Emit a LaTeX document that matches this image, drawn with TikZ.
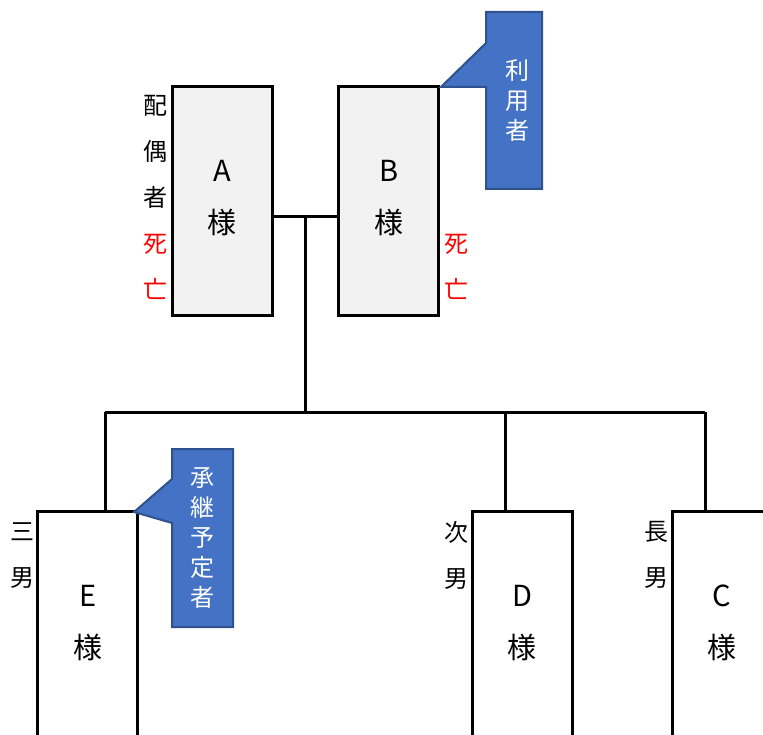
\documentclass[tikz,border=0pt]{standalone}
\usepackage{fontspec}
\setmainfont{Noto Sans CJK JP}
\definecolor{boxgray}{HTML}{F2F2F2}
\definecolor{callfill}{HTML}{4472C4}
\definecolor{calldraw}{HTML}{2F528F}
\definecolor{deadred}{HTML}{FF0000}
\tikzset{
  person/.style={draw=black, line width=3pt, minimum width=100pt, inner sep=0pt, anchor=north},
  parent/.style={person, fill=boxgray, minimum height=229pt},
  child/.style={person, fill=white, minimum height=260pt},
  link/.style={line width=3pt},
  callout/.style={fill=callfill, draw=calldraw, line width=2pt, line join=miter},
  boxtext/.style={inner sep=0pt, align=center, font=\fontsize{29}{52}\selectfont},
  sidetext/.style={inner sep=0pt, align=center, font=\fontsize{24}{46}\selectfont},
  calltext/.style={inner sep=0pt, align=center, text=white, font=\fontsize{24}{30}\selectfont}
}
\begin{document}
\begin{tikzpicture}[x=1pt,y=-1pt]
\useasboundingbox (0,0) rectangle (763,735);
\clip (0,0) rectangle (763,735);
% parents
\node[parent] (A) at (222,85) {};
\node[parent] (B) at (388.5,85) {};
% children
\node[child] (E) at (87.5,510) {};
\node[child] (D) at (522,510) {};
\node[child] (C) at (722,510) {};
% connectors
\coordinate (m) at (305,216.5);
\coordinate (barL) at (105,412);
\coordinate (barR) at (705,412);
\coordinate (barD) at (505,412);
\draw[link] (A.east |- m) -- (B.west |- m);
\draw[link] (m) -- (m |- barL);
\draw[link] (barL) -- (barR);
\draw[link] (barL) -- (barL |- E.north);
\draw[link] (barD) -- (barD |- D.north);
\draw[link] (barR) -- (barR |- C.north);
% box texts
\node[boxtext] (At) at (222,198) {A\\様};
\node[boxtext] (Bt) at (389,198) {B\\様};
\node[boxtext] (Et) at (88,623) {E\\様};
\node[boxtext] (Dt) at (522,623) {D\\様};
\node[boxtext] (Ct) at (722,623) {C\\様};
% side labels
\node[sidetext] (Al) at (155,197.5) {配\\偶\\者\\\textcolor{deadred}{死}\\\textcolor{deadred}{亡}};
\node[sidetext] (Bl) at (456,267) {\textcolor{deadred}{死}\\\textcolor{deadred}{亡}};
\node[sidetext] (El) at (22,556) {三\\男};
\node[sidetext] (Dl) at (456,555) {次\\男};
\node[sidetext] (Cl) at (656,555) {長\\男};
% callouts
\draw[callout] (486,12) -- (542,12) -- (542,189) -- (486,189) -- (486,87) -- (441,87) -- (486,43) -- cycle;
\node[calltext] (Bc) at (517,100) {利\\用\\者};
\draw[callout] (172,449) -- (233,449) -- (233,627) -- (172,627) -- (172,523) -- (134,512) -- (172,479) -- cycle;
\node[calltext] (Ec) at (202,538) {承\\継\\予\\定\\者};
\end{tikzpicture}
\end{document}
